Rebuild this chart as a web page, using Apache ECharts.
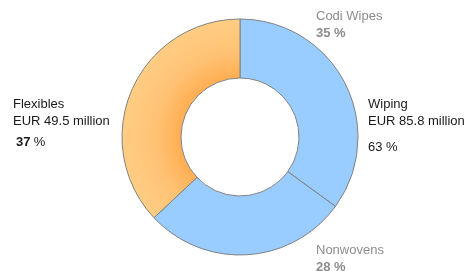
<!DOCTYPE html>
<html>
<head>
<meta charset="utf-8">
<script src="https://cdn.jsdelivr.net/npm/echarts@6/dist/echarts.min.js"></script>
<style>
  html, body { margin: 0; padding: 0; background: #fff; }
  #chart { width: 468px; height: 271px; }
</style>
</head>
<body>
<div id="chart"></div>
<script>
// segments, clockwise from 12 o'clock
const segments = ['Codi Wipes', 'Nonwovens', 'Flexibles']
const shares = [35, 28, 37]
// business units
const units = ['Wiping', 'Flexibles']
const unitSales = [85.8, 49.5]
const unitShares = [63, 37]

const chart = echarts.init(document.getElementById('chart'))

const font = '"Liberation Sans", Arial, sans-serif'
const cx = 240, cy = 137, rIn = 59, rOut = 118

const orange = {
  type: 'radial',
  x: cx, y: cy, r: rOut,
  global: true,
  colorStops: [
    { offset: 0.5, color: '#FFAE52' },
    { offset: 0.72, color: '#FFC274' },
    { offset: 1, color: '#FFCD84' }
  ]
}
const colors = ['#99CCFF', '#99CCFF', orange]

function label(x, y, lines) {
  return {
    type: 'text',
    left: x,
    top: y,
    style: {
      rich: {
        n: { fontFamily: font, fontSize: 13, fill: lines.color, lineHeight: 17 },
        b: { fontFamily: font, fontSize: 13, fill: lines.color, fontWeight: 'bold', lineHeight: 17 }
      },
      text: lines.text
    }
  }
}

const option = {
  animation: false,
  series: [{
    type: 'pie',
    center: [cx, cy],
    radius: [rIn, rOut],
    startAngle: 90,
    clockwise: true,
    label: { show: false },
    labelLine: { show: false },
    emphasis: { disabled: true },
    itemStyle: { borderColor: '#808080', borderWidth: 1 },
    data: segments.map((name, i) => ({
      name,
      value: shares[i],
      itemStyle: { color: colors[i] }
    }))
  }],
  graphic: [
    label(368, 98, { color: '#1a1a1a', text: `{n|${units[0]}}\n{n|EUR ${unitSales[0]} million}` }),
    label(368, 141, { color: '#1a1a1a', text: `{n|${unitShares[0]} %}` }),
    label(13, 98, { color: '#1a1a1a', text: `{n|${units[1]}}\n{n|EUR ${unitSales[1]} million}` }),
    label(16, 136, { color: '#1a1a1a', text: `{b|${unitShares[1]}} {n|%}` }),
    label(316, 10, { color: '#8c8c8c', text: `{n|${segments[0]}}\n{b|${shares[0]} %}` }),
    label(316, 244, { color: '#8c8c8c', text: `{n|${segments[1]}}\n{b|${shares[1]} %}` })
  ]
}

chart.setOption(option)
</script>
</body>
</html>
